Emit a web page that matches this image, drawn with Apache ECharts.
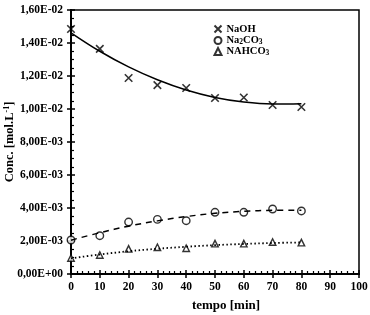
<!DOCTYPE html>
<html>
<head>
<meta charset="utf-8">
<script src="https://cdn.jsdelivr.net/npm/echarts@6/dist/echarts.min.js"></script>
<style>
  html, body { margin: 0; padding: 0; background: #fff; }
  #chart { width: 370px; height: 315px; }
</style>
</head>
<body>
<div id="chart"></div>
<script>
  // tempo [min]
  var tempo = [0, 10, 20, 30, 40, 50, 60, 70, 80];
  // measured points
  var naoh    = [0.01485, 0.01364, 0.01188, 0.01145, 0.01127, 0.01067, 0.01070, 0.01024, 0.01012];
  var na2co3  = [0.00206, 0.00232, 0.00315, 0.00331, 0.00323, 0.00374, 0.00374, 0.00394, 0.00382];
  var nahco3  = [0.00097, 0.00115, 0.00152, 0.00162, 0.00156, 0.00184, 0.00184, 0.00194, 0.00190];
  // fitted curves
  var naohFit   = [0.01462, 0.01350, 0.01255, 0.01177, 0.01115, 0.01070, 0.01042, 0.01030, 0.01032];
  var na2co3Fit = [0.00205, 0.00250, 0.00290, 0.00322, 0.00348, 0.00368, 0.00380, 0.00386, 0.00387];
  var nahco3Fit = [0.00095, 0.00118, 0.00138, 0.00153, 0.00165, 0.00175, 0.00182, 0.00188, 0.00191];

  var FONT = '"Liberation Serif", "Times New Roman", serif';
  var X_PATH = 'path://M0,0 L10,10 M10,0 L0,10';

  function pairs(xs, ys) {
    var out = [];
    for (var i = 0; i < xs.length; i++) out.push([xs[i], ys[i]]);
    return out;
  }

  //格式 1,60E-02
  function sciLabel(v) {
    var s = Number(v).toExponential(2).split('e');
    var exp = parseInt(s[1], 10);
    var sign = exp < 0 ? '-' : '+';
    var e = Math.abs(exp);
    return s[0].replace('.', ',') + 'E' + sign + (e < 10 ? '0' + e : e);
  }

  var chart = echarts.init(document.getElementById('chart'));

  var xBase = {
    type: 'value', min: 0, max: 100, interval: 10,
    position: 'bottom',
    axisLine: { lineStyle: { color: '#000', width: 2 } },
    splitLine: { show: false }
  };
  var yBase = {
    type: 'value', min: 0, max: 0.016, interval: 0.002,
    position: 'left',
    axisLine: { lineStyle: { color: '#000', width: 2 } },
    splitLine: { show: false }
  };

  var option = {
    animation: false,
    grid: {
      left: 71, right: 11, top: 10, bottom: 41,
      containLabel: false,
      outerBoundsMode: 'none',
      show: true, borderColor: '#000', borderWidth: 1.5
    },
    legend: {
      show: true,
      left: 207, top: 18,
      orient: 'vertical',
      itemGap: 0,
      itemWidth: 7, itemHeight: 7,
      data: ['NaOH', 'Na2CO3', 'NAHCO3'],
      formatter: function (name) {
        if (name == 'Na2CO3') return 'Na{s|2}CO{s|3}';
        if (name == 'NAHCO3') return 'NAHCO{s|3}';
        return name;
      },
      textStyle: {
        color: '#000', fontFamily: FONT, fontWeight: 'bold', fontSize: 10.5, lineHeight: 11,
        padding: [0, 0, 0, 0],
        rich: { s: { fontFamily: FONT, fontWeight: 'bold', fontSize: 7.5, lineHeight: 11, verticalAlign: 'bottom', padding: [3, 0, 0, 0] } }
      }
    },
    xAxis: [
      Object.assign({}, xBase, {
        name: 'tempo [min]',
        nameLocation: 'middle',
        nameGap: 25,
        nameMoveOverlap: false,
        nameTextStyle: { color: '#000', fontFamily: FONT, fontWeight: 'bold', fontSize: 13, padding: [0, 0, 0, 22] },
        axisTick: { show: true, inside: false, length: 4, lineStyle: { color: '#000', width: 1.5 } },
        axisLabel: { color: '#000', fontFamily: FONT, fontWeight: 'bold', fontSize: 11.5, margin: 7 }
      }),
      Object.assign({}, xBase, {
        axisLabel: { show: false },
        axisTick: { show: true, inside: true, length: 4, lineStyle: { color: '#000', width: 1.5 } },
        minorTick: { show: true, splitNumber: 5, length: 3, lineStyle: { color: '#000', width: 1.2 } }
      })
    ],
    yAxis: [
      Object.assign({}, yBase, {
        name: 'Conc. [mol.L{sup|-1}]',
        nameLocation: 'middle',
        nameRotate: 90,
        nameGap: 54,
        nameMoveOverlap: false,
        nameTextStyle: {
          color: '#000', fontFamily: FONT, fontWeight: 'bold', fontSize: 12.5,
          rich: { sup: { fontFamily: FONT, fontWeight: 'bold', fontSize: 8, verticalAlign: 'top', padding: [0, 0, 6, 0] } }
        },
        axisTick: { show: true, inside: false, length: 4, lineStyle: { color: '#000', width: 1.5 } },
        axisLabel: { color: '#000', fontFamily: FONT, fontWeight: 'bold', fontSize: 11.5, margin: 8, formatter: sciLabel }
      }),
      Object.assign({}, yBase, {
        axisLabel: { show: false },
        axisTick: { show: true, inside: true, length: 4, lineStyle: { color: '#000', width: 1.5 } },
        minorTick: { show: true, splitNumber: 4, length: 3, lineStyle: { color: '#000', width: 1.2 } }
      })
    ],
    series: [
      {
        name: 'NaOH fit', type: 'line', smooth: 0.4, showSymbol: false, symbol: 'none',
        data: pairs(tempo, naohFit),
        lineStyle: { color: '#000', width: 1.5, type: 'solid' }
      },
      {
        name: 'Na2CO3 fit', type: 'line', smooth: 0.4, showSymbol: false, symbol: 'none',
        data: pairs(tempo, na2co3Fit),
        lineStyle: { color: '#000', width: 1.5, type: [6, 5] }
      },
      {
        name: 'NAHCO3 fit', type: 'line', smooth: 0.4, showSymbol: false, symbol: 'none',
        data: pairs(tempo, nahco3Fit),
        lineStyle: { color: '#000', width: 1.8, type: [1.5, 2.5] }
      },
      {
        name: 'NaOH', type: 'scatter', symbol: X_PATH, symbolSize: 7.5,
        data: pairs(tempo, naoh),
        itemStyle: { color: 'none', borderColor: '#000', borderWidth: 1.6 }
      },
      {
        name: 'Na2CO3', type: 'scatter', symbol: 'circle', symbolSize: 7.5,
        data: pairs(tempo, na2co3),
        itemStyle: { color: '#fff', borderColor: '#000', borderWidth: 1.4 }
      },
      {
        name: 'NAHCO3', type: 'scatter', symbol: 'triangle', symbolSize: 6.5,
        data: pairs(tempo, nahco3),
        itemStyle: { color: '#fff', borderColor: '#000', borderWidth: 1.4 }
      }
    ]
  };

  chart.setOption(option);
</script>
</body>
</html>
